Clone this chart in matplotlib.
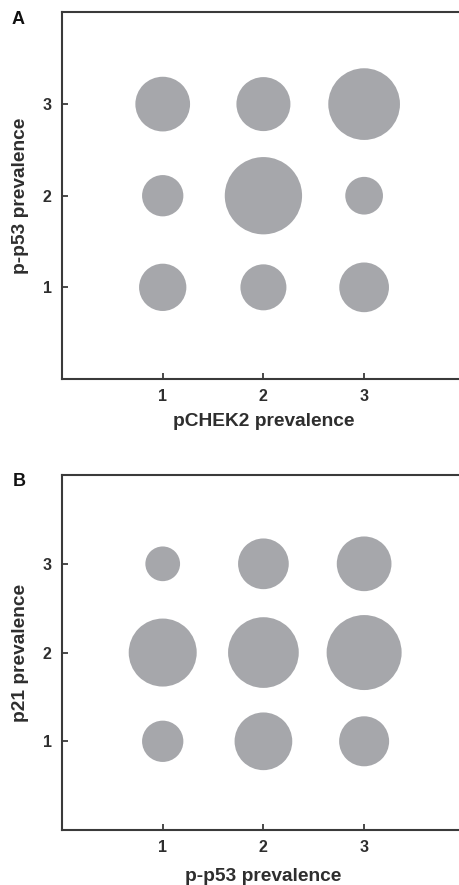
import matplotlib

matplotlib.use("Agg")
import matplotlib.pyplot as plt  # noqa: E402
import numpy as np  # noqa: E402

# Grade de categorias (1, 2, 3) nos dois eixos.
niveis = [1, 2, 3]
grade_x = np.repeat(niveis, 3)   # 1,1,1,2,2,2,3,3,3
grade_y = np.tile(niveis, 3)     # 1,2,3,1,2,3,...

# Tamanho (diâmetro relativo) das bolhas.
# Ordem: (x=1,y=1), (1,2), (1,3), (2,1), (2,2), (2,3), (3,1), (3,2), (3,3)
bolhas_a = [47.3, 41.3, 54.7, 46.0, 77.3, 54.0, 49.7, 37.7, 71.7]
bolhas_b = [41.3, 68.0, 34.7, 57.7, 70.7, 50.7, 50.0, 75.0, 54.7]

rotulo_x_a = "pCHEK2 prevalence"
rotulo_y_a = "p-p53 prevalence"
rotulo_x_b = "p-p53 prevalence"
rotulo_y_b = "p21 prevalence"

DPI = 100
COR_BOLHA = "#a6a7ab"
COR_EIXO = "#3a3a3a"
COR_TEXTO = "#2e2e2e"

plt.rcParams["font.family"] = ["Liberation Sans", "DejaVu Sans"]
plt.rcParams["font.weight"] = "bold"

fig = plt.figure(figsize=(4.6, 8.85), dpi=DPI)


def painel(ret, diametros, rot_x, rot_y, letra, y_letra):
    ax = fig.add_axes(ret)
    # diâmetro em px -> área em pontos^2
    s = (np.asarray(diametros) * 72.0 / DPI) ** 2
    ax.scatter(grade_x, grade_y, s=s, color=COR_BOLHA, edgecolors="none", zorder=3)
    ax.set_xlim(0, 4)
    ax.set_ylim(0, 4)
    ax.set_xticks(niveis)
    ax.set_yticks(niveis)
    ax.tick_params(direction="in", length=4.5, width=1.3, color=COR_EIXO,
                   labelsize=11.5, labelcolor=COR_TEXTO, pad=7.5)
    for lbl in ax.get_xticklabels() + ax.get_yticklabels():
        lbl.set_fontweight("bold")
    ax.spines["right"].set_visible(False)
    for lado in ("left", "bottom", "top"):
        ax.spines[lado].set_color(COR_EIXO)
        ax.spines[lado].set_linewidth(1.5)
    ax.set_xlabel(rot_x, fontsize=13.8, fontweight="bold", color=COR_TEXTO, va="center")
    ax.set_ylabel(rot_y, fontsize=13.8, fontweight="bold", color=COR_TEXTO,
                  va="center", ha="center")
    return ax


ax_a = painel([0.1348, 0.5718, 0.8757, 0.4141], bolhas_a, rotulo_x_a, rotulo_y_a, "A", 0)
ax_a.xaxis.set_label_coords(0.5, -0.115)
ax_a.yaxis.set_label_coords(-0.104, 0.5)

ax_b = painel([0.1348, 0.0621, 0.8757, 0.4011], bolhas_b, rotulo_x_b, rotulo_y_b, "B", 0)
ax_b.xaxis.set_label_coords(0.5, -0.13)
ax_b.yaxis.set_label_coords(-0.104, 0.5)

fig.text(18 / 460, 1 - 20 / 885, "A", fontsize=13, fontweight="bold",
         color="#111111", ha="center", va="center")
fig.text(19 / 460, 1 - 482 / 885, "B", fontsize=13, fontweight="bold",
         color="#111111", ha="center", va="center")

fig.savefig("out.png", dpi=DPI)
plt.close(fig)
